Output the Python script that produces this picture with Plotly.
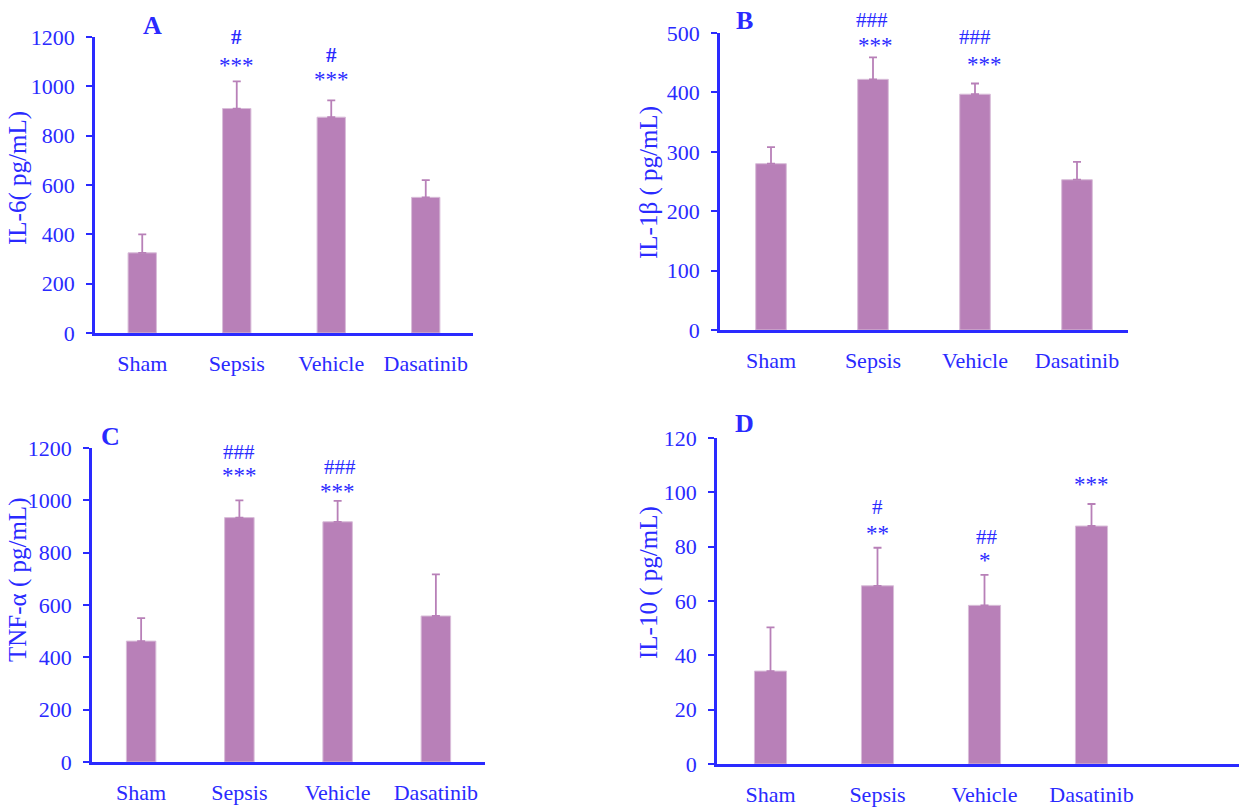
import plotly.graph_objects as go

categories = ["Sham", "Sepsis", "Vehicle", "Dasatinib"]

il6_values = [325, 910, 875, 550]
il6_err = [75, 110, 68, 70]
il1b_values = [280, 422, 397, 253]
il1b_err = [28, 37, 18, 30]
tnfa_values = [462, 934, 918, 558]
tnfa_err = [88, 66, 80, 159]
il10_values = [34.2, 65.6, 58.4, 87.6]
il10_err = [16.1, 14.0, 11.2, 8.1]

# significance marks: (category index, star text, hash text)
il6_sig = [(1, "***", "#"), (2, "***", "#")]
il1b_sig = [(1, "***", "###"), (2, "***", "###")]
tnfa_sig = [(1, "***", "###"), (2, "***", "###")]
il10_sig = [(1, "**", "#"), (2, "*", "##"), (3, "***", "")]

BLUE = "#2a2aff"
BAR = "#b880b8"
FONT = "Liberation Serif"
W, H = 1239, 807

panels = [
    dict(name="A", title="IL-6( pg/mL)", vals=il6_values, err=il6_err, sig=il6_sig,
         x0=95, x1=473, ytop=37, ybot=333, yr=[0, 1200], dt=200, xextra=0,
         star_shift=[16, 21], hash_shift=[44, 45], star_dx=[0, 0], hash_dx=[0, 0],
         hash_bold=True, letter=(152, 25), ytitle=(18, 178)),
    dict(name="B", title="IL-1β ( pg/mL)", vals=il1b_values, err=il1b_err, sig=il1b_sig,
         x0=720, x1=1128, ytop=33, ybot=330, yr=[0, 500], dt=100, xextra=0,
         star_shift=[12, 19], hash_shift=[37, 46], star_dx=[2, 9], hash_dx=[-1, 0],
         hash_bold=False, letter=(745, 20), ytitle=(649, 183)),
    dict(name="C", title="TNF-α ( pg/mL)", vals=tnfa_values, err=tnfa_err, sig=tnfa_sig,
         x0=92, x1=485, ytop=448, ybot=762, yr=[0, 1200], dt=200, xextra=0,
         star_shift=[25, 9], hash_shift=[48, 34], star_dx=[0, 0], hash_dx=[0, 2],
         hash_bold=False, letter=(110, 436), ytitle=(18, 580)),
    dict(name="D", title="IL-10 ( pg/mL)", vals=il10_values, err=il10_err, sig=il10_sig,
         x0=717, x1=1239, ytop=438, ybot=764, yr=[0, 120], dt=20, xextra=94,
         star_shift=[14, 14, 20], hash_shift=[41, 38, 0], star_dx=[0, 0, 0], hash_dx=[0, 2, 0],
         hash_bold=False, letter=(744, 423), ytitle=(649, 583)),
]

fig = go.Figure()
annotations = []
for i, p in enumerate(panels):
    k = "" if i == 0 else str(i + 1)
    xa, ya = "x" + k, "y" + k
    fig.add_trace(go.Bar(
        x=categories, y=p["vals"], xaxis=xa, yaxis=ya, width=0.3,
        marker=dict(color=BAR, line=dict(color="#d9bdd9", width=1)),
        error_y=dict(type="data", symmetric=False, array=p["err"],
                     arrayminus=[0] * len(p["err"]), color=BAR, thickness=1.8, width=4),
        showlegend=False, hoverinfo="skip"))
    slot = (p["x1"] - p["x0"] - p["xextra"]) / 4.0
    extra_units = p["xextra"] / slot
    fig.layout["xaxis" + k] = dict(
        domain=[p["x0"] / W, p["x1"] / W], anchor=ya, range=[-0.5, 3.5 + extra_units],
        showline=True, linecolor=BLUE, linewidth=2.5, ticks="", showgrid=False,
        zeroline=False, tickfont=dict(family=FONT, size=22, color=BLUE),
        ticklabelstandoff=9, fixedrange=True, automargin=False)
    fig.layout["yaxis" + k] = dict(
        domain=[1 - p["ybot"] / H, 1 - p["ytop"] / H], anchor=xa, range=p["yr"],
        dtick=p["dt"], showline=True, linecolor=BLUE, linewidth=2.5, ticks="outside",
        ticklen=6, tickwidth=1.5, tickcolor=BLUE, showgrid=False, zeroline=False,
        tickfont=dict(family=FONT, size=22, color=BLUE), ticklabelstandoff=7,
        fixedrange=True, automargin=False)
    for j, (ci, stars, hashes) in enumerate(p["sig"]):
        top = p["vals"][ci] + p["err"][ci]
        annotations.append(dict(
            x=categories[ci], y=top, xref=xa, yref=ya, text=stars, showarrow=False,
            yshift=p["star_shift"][j], xshift=p["star_dx"][j], xanchor="center",
            yanchor="middle", font=dict(family=FONT, size=23, color=BLUE)))
        if hashes:
            htxt = "<b>" + hashes + "</b>" if p["hash_bold"] else hashes
            annotations.append(dict(
                x=categories[ci], y=top, xref=xa, yref=ya, text=htxt, showarrow=False,
                yshift=p["hash_shift"][j], xshift=p["hash_dx"][j], xanchor="center",
                yanchor="middle", font=dict(family=FONT, size=21, color=BLUE)))
    lx, ly = p["letter"]
    annotations.append(dict(
        x=lx / W, y=1 - ly / H, xref="paper", yref="paper", text="<b>" + p["name"] + "</b>",
        showarrow=False, xanchor="center", yanchor="middle",
        font=dict(family=FONT, size=26, color=BLUE)))
    tx, ty = p["ytitle"]
    annotations.append(dict(
        x=tx / W, y=1 - ty / H, xref="paper", yref="paper", text=p["title"],
        textangle=-90, showarrow=False, xanchor="center", yanchor="middle",
        font=dict(family=FONT, size=25, color=BLUE)))

fig.update_layout(
    width=W, height=H, margin=dict(l=0, r=0, t=0, b=0, autoexpand=False),
    paper_bgcolor="white", plot_bgcolor="white", annotations=annotations,
    bargap=0.7)

fig.write_html(
    "out.html", config={"displayModeBar": False},
    post_script="document.body.style.margin='0';document.body.style.overflow='hidden';"
                "document.documentElement.style.overflow='hidden';")
